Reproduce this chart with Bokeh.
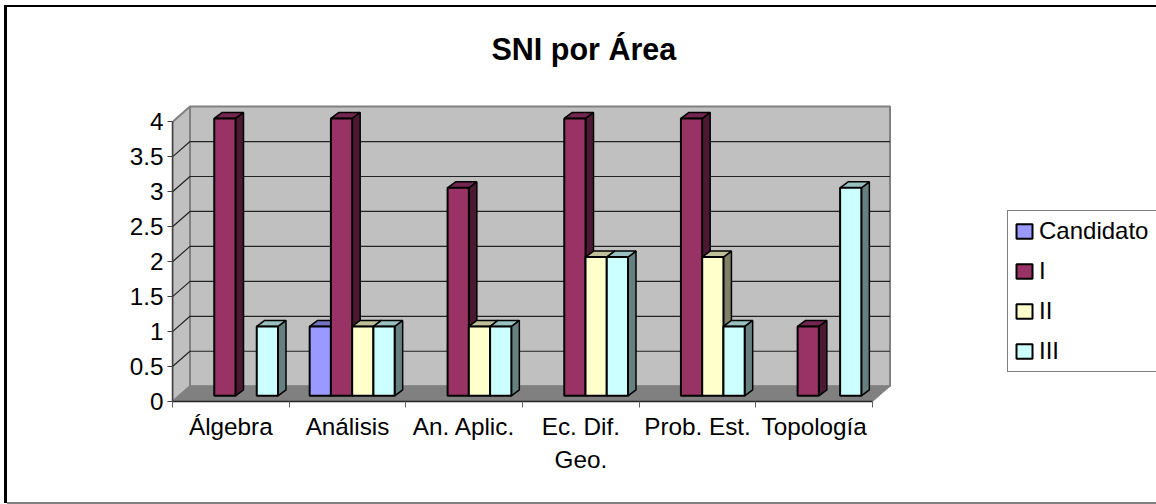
from bokeh.plotting import figure
from bokeh.embed import file_html
from bokeh.resources import INLINE
from bokeh.models import Range1d, FixedTicker, Legend, LegendItem, LinearAxis

categories = ["Álgebra", "Análisis", "An. Aplic.", "Ec. Dif.\nGeo.", "Prob. Est.", "Topología"]
series_names = ["Candidato", "I", "II", "III"]
candidato = [0, 1, 0, 0, 0, 0]
nivel_i = [4, 4, 3, 4, 4, 1]
nivel_ii = [0, 1, 1, 2, 2, 0]
nivel_iii = [1, 1, 1, 2, 1, 3]
y_ticks = [0, 0.5, 1, 1.5, 2, 2.5, 3, 3.5, 4]
y_labels = ["0", "0.5", "1", "1.5", "2", "2.5", "3", "3.5", "4"]

front_colors = ["#9999FF", "#993366", "#FFFFCC", "#CCFFFF"]
top_colors = ["#7373BF", "#732650", "#BFBF99", "#99BFBF"]
side_colors = ["#4C4C80", "#4C1933", "#808066", "#668080"]

FONT = "Liberation Sans"
AXIS_FONT_SIZE = "24.3px"
W, H = 1156, 504
L, B, T = 172, 401, 97
PX_X, PX_Y = 116.67, 69.9
WALL_DX, WALL_DY = 17.5 / PX_X, 15.3 / PX_Y
BAR_DX, BAR_DY = 8 / PX_X, 6 / PX_Y
BASE = 5.7 / PX_Y
SCALE = 0.992
START, BW = 20.5 / PX_X, 21.25 / PX_X
n = len(categories)

frame_css = ("linear-gradient(#000,#000) 4px 5px / 1152px 2px no-repeat, "
             "linear-gradient(#000,#000) 4px 5px / 3px 498px no-repeat, "
             "linear-gradient(#808080,#808080) 7px 502px / 1149px 2px no-repeat, white")

p = figure(width=W, height=H, output_backend="svg", toolbar_location=None,
           x_range=Range1d(0, (W - L) / PX_X), y_range=Range1d(0, (B - T) / PX_Y),
           x_axis_type=None, y_axis_type=None,
           min_border_left=L, min_border_right=0, min_border_top=T, min_border_bottom=H - B,
           background_fill_color=None, border_fill_color=None, outline_line_color=None,
           styles={"position": "absolute", "left": "0", "top": "0", "background": frame_css})
p.grid.visible = False

p.title.text = "SNI por Área"
p.title.text_font = FONT
p.title.text_font_size = "30.5px"
p.title.text_font_style = "bold"
p.title.text_color = "black"
p.title.align = "left"
p.title.offset = 319
p.title.vertical_align = "top"
p.title.standoff = 60

# walls and floor
top_v = y_ticks[-1]
p.patch([0, WALL_DX, WALL_DX, 0], [0, WALL_DY, top_v + WALL_DY, top_v],
        fill_color="#C0C0C0", line_color="#808080", line_width=2)
p.patch([WALL_DX, n + WALL_DX, n + WALL_DX, WALL_DX], [WALL_DY, WALL_DY, top_v + WALL_DY, top_v + WALL_DY],
        fill_color="#C0C0C0", line_color="#808080", line_width=2)
inner = y_ticks[1:-1]
p.multi_line([[0, WALL_DX, n + WALL_DX] for _ in inner],
             [[v, v + WALL_DY, v + WALL_DY] for v in inner], line_color="#222222", line_width=1.2)
p.patch([0, n, n + WALL_DX, WALL_DX], [0, 0, WALL_DY, WALL_DY],
        fill_color="#808080", line_color="#808080", line_width=1)

# bars
renderers = []
all_values = [candidato, nivel_i, nivel_ii, nivel_iii]
for s, vals in enumerate(all_values):
    idx = [i for i, v in enumerate(vals) if v > 0]
    x0 = [i + START + s * BW for i in idx]
    x1 = [x + BW for x in x0]
    yt = [vals[i] * SCALE + BASE for i in idx]
    p.patches([[a + BW, a + BW + BAR_DX, a + BW + BAR_DX, a + BW] for a in x0],
              [[BASE, BASE + BAR_DY, t + BAR_DY, t] for t in yt],
              fill_color=side_colors[s], line_color="black", line_width=1.5)
    p.patches([[a, a + BAR_DX, a + BW + BAR_DX, a + BW] for a in x0],
              [[t, t + BAR_DY, t + BAR_DY, t] for t in yt],
              fill_color=top_colors[s], line_color="black", line_width=1.5)
    r = p.quad(left=x0, right=x1, bottom=[BASE] * len(idx), top=yt,
               fill_color=front_colors[s], line_color="black", line_width=2)
    renderers.append(r)

# axes
ya = LinearAxis(ticker=FixedTicker(ticks=y_ticks), bounds=(0, 4),
                major_label_overrides={t: l for t, l in zip(y_ticks, y_labels)})
ya.axis_line_color = "#404040"
ya.axis_line_width = 1.5
ya.major_tick_line_color = "#404040"
ya.major_tick_out = 5
ya.major_tick_in = 0
ya.minor_tick_line_color = None
ya.major_label_text_font = FONT
ya.major_label_text_font_size = AXIS_FONT_SIZE
ya.major_label_text_color = "black"
ya.major_label_standoff = 4
p.add_layout(ya, "left")

centers = [i + 0.5 for i in range(n)]
xa = LinearAxis(ticker=FixedTicker(ticks=centers, minor_ticks=list(range(n + 1))), bounds=(0, n),
                major_label_overrides={c: l for c, l in zip(centers, categories)})
xa.axis_line_color = "#222222"
xa.axis_line_width = 1.5
xa.major_tick_line_color = None
xa.minor_tick_line_color = "#606060"
xa.minor_tick_out = 6
xa.minor_tick_in = 0
xa.major_label_text_font = FONT
xa.major_label_text_font_size = AXIS_FONT_SIZE
xa.major_label_text_color = "black"
xa.major_label_text_line_height = 1.25
xa.major_label_standoff = 5
p.add_layout(xa, "below")

# legend
legend = Legend(items=[LegendItem(label=nm, renderers=[r]) for nm, r in zip(series_names, renderers)],
                location=(1007 - L, B - 372), orientation="vertical",
                label_text_font=FONT, label_text_font_size="24px", label_text_color="black",
                glyph_width=20, glyph_height=18, label_standoff=5, padding=6, spacing=12,
                margin=0, label_height=24, label_width=118,
                border_line_color="black", border_line_width=1.5,
                background_fill_color="white", background_fill_alpha=1)
p.add_layout(legend, "center")

open("out.html", "w").write(file_html(p, INLINE))
